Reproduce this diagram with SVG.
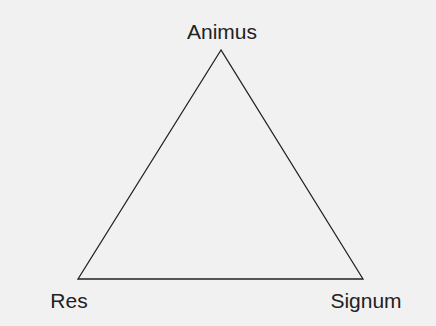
<svg xmlns="http://www.w3.org/2000/svg" width="436" height="326" viewBox="0 0 436 326">
<style>
.lbl{font-family:"Liberation Sans",Arial,sans-serif;font-size:21px;fill:#222}
.edge{fill:none;stroke:#222;stroke-width:1.3;stroke-linejoin:miter}
</style>
<rect x="0" y="0" width="436" height="326" fill="#f1f1f1"/>
<g id="connectors">
<path class="edge" d="M221,50 L78,279 L363,279 Z"/>
</g>
<g id="animus"><text class="lbl" x="222" y="39" text-anchor="middle">Animus</text></g>
<g id="res"><text class="lbl" x="69" y="308" text-anchor="middle">Res</text></g>
<g id="signum"><text class="lbl" x="366" y="308" text-anchor="middle">Signum</text></g>
</svg>
